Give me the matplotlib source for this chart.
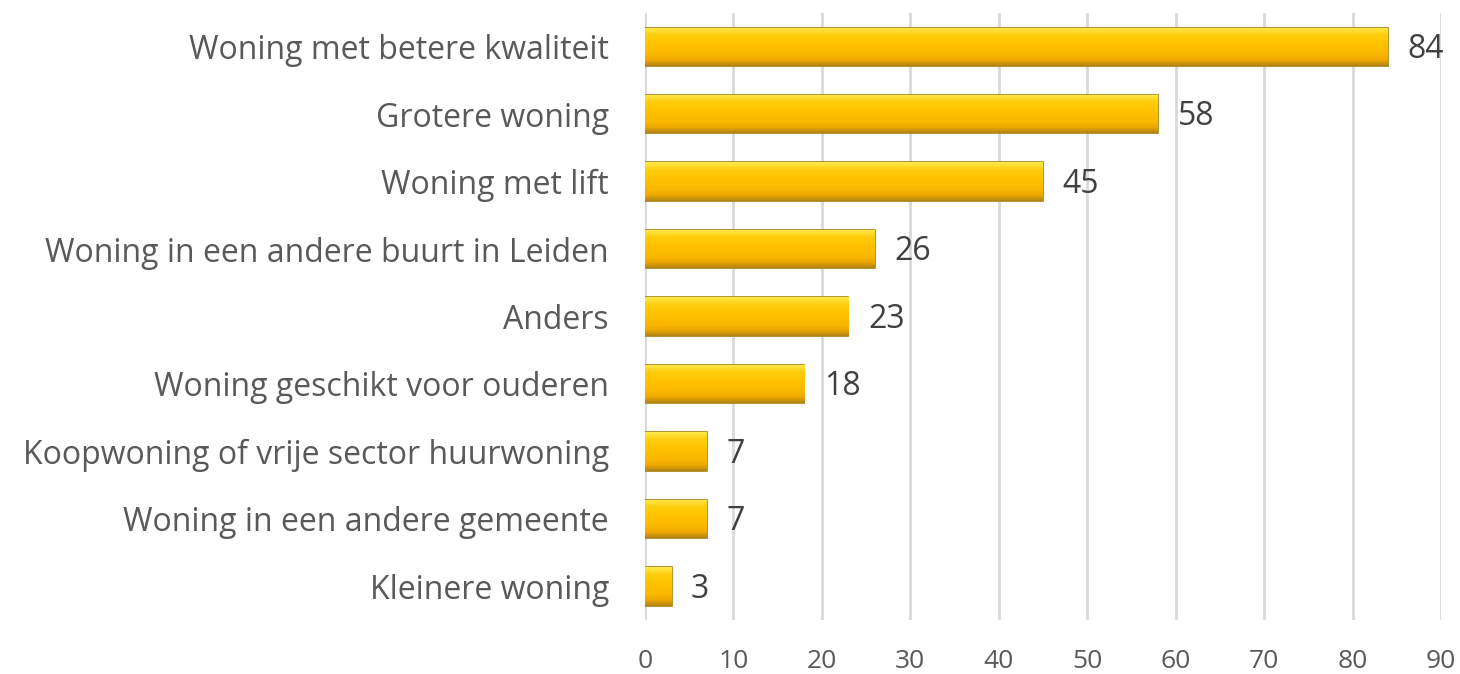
import numpy as np
import matplotlib.pyplot as plt

# categorieen en aantallen (van boven naar beneden)
categorieen = [
    "Woning met betere kwaliteit",
    "Grotere woning",
    "Woning met lift",
    "Woning in een andere buurt in Leiden",
    "Anders",
    "Woning geschikt voor ouderen",
    "Koopwoning of vrije sector huurwoning",
    "Woning in een andere gemeente",
    "Kleinere woning",
]
aantallen = [84, 58, 45, 26, 23, 18, 7, 7, 3]
x_ticks = [0, 10, 20, 30, 40, 50, 60, 70, 80, 90]

plt.rcParams["font.family"] = ["Open Sans", "DejaVu Sans"]

fig = plt.figure(figsize=(14.6, 6.74), dpi=100)
ax = fig.add_axes([0.4418, 0.0801, 0.5452, 0.9006])

y = np.arange(len(categorieen))
bars = ax.barh(y, aantallen, height=0.57, color="#FFC000",
               edgecolor="#A8800E", linewidth=1.2, zorder=3)

# verloop op de balken (lichte rand boven, donkere rand onder)
kleuren = np.array([
    [1.00, 0.92, 0.30],
    [1.00, 0.80, 0.05],
    [1.00, 0.76, 0.00],
    [0.98, 0.72, 0.00],
    [0.93, 0.66, 0.00],
    [0.70, 0.52, 0.08],
])
pos = np.array([0.0, 0.2, 0.45, 0.7, 0.85, 1.0])
t = np.linspace(0, 1, 64)
grad = np.stack([np.interp(t, pos, kleuren[:, k]) for k in range(3)], axis=-1)
grad = grad[:, None, :]
for b in bars:
    x0, y0, w, h = b.get_x(), b.get_y(), b.get_width(), b.get_height()
    im = ax.imshow(grad, extent=[x0, x0 + w, y0 + h, y0], aspect="auto",
                   origin="upper", zorder=3.5, interpolation="bilinear")
    im.set_clip_path(b)

for yi, v in zip(y, aantallen):
    ax.annotate(str(v), (v, yi), xytext=(14, -2), textcoords="offset points",
                va="center", ha="left", fontsize=23, color="#404040")

ax.set_ylim(len(categorieen) - 0.5, -0.5)
ax.set_xlim(0, 90)
ax.set_yticks(y)
ax.set_yticklabels(categorieen, fontsize=23, color="#595959")
ax.set_xticks(x_ticks)
ax.set_xticklabels([str(v) for v in x_ticks], fontsize=19, color="#595959")
ax.tick_params(axis="y", length=0, pad=26)
ax.tick_params(axis="x", length=0, pad=21)
ax.grid(axis="x", color="#D9D9D9", linewidth=2, zorder=0)
ax.set_axisbelow(True)
for s in ax.spines.values():
    s.set_visible(False)

fig.savefig("out.png", dpi=100)
